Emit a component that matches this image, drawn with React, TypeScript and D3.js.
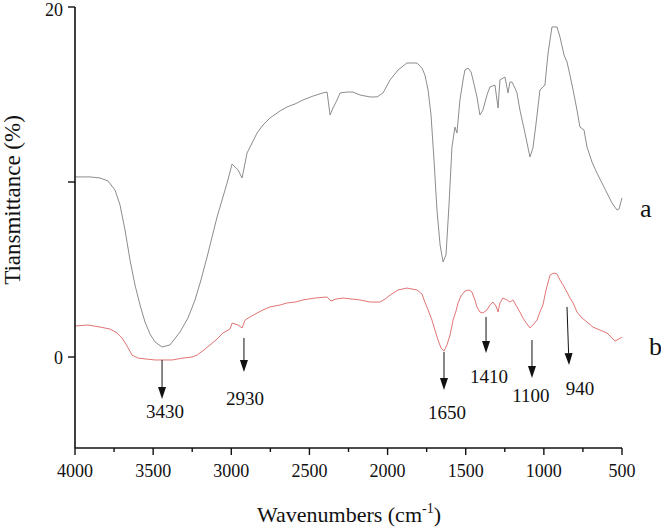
import React from "react";
import * as d3 from "d3";

// ---- data ----
const wavenumbersA = [4000,3904,3840,3789,3744,3712,3680,3648,3616,3584,3552,3520,3488,3443,3392,3328,3277,3232,3194,3155,3123,3091,3059,3027,2995,2957,2931,2899,2867,2835,2797,2752,2688,2643,2592,2541,2477,2413,2387,2368,2349,2323,2304,2259,2221,2176,2112,2068,2029,1984,1933,1876,1812,1780,1761,1741,1722,1703,1684,1664,1645,1626,1607,1588,1569,1556,1537,1517,1505,1485,1466,1453,1428,1409,1390,1364,1345,1313,1293,1281,1249,1229,1217,1204,1185,1172,1153,1121,1089,1070,1051,1025,993,973,948,916,897,871,852,833,813,788,769,743,724,692,660,628,596,564,532,519,500];
const transmittanceA = [10.29,10.29,10.23,10.06,9.54,8.69,7.26,5.54,4.11,2.97,2.0,1.31,0.86,0.57,0.69,1.43,2.23,3.26,4.4,5.71,6.86,8.0,8.97,9.94,11.03,10.69,10.23,11.66,12.23,12.8,13.26,13.66,14.06,14.29,14.46,14.69,14.91,15.09,15.14,13.83,14.23,14.69,15.09,15.14,15.14,14.97,14.86,14.86,15.09,15.83,16.4,16.8,16.8,16.51,16.11,15.26,13.83,11.26,8.4,6.4,5.43,5.83,8.69,12.0,13.14,12.8,14.69,15.83,16.4,16.51,16.29,15.83,14.86,13.83,14.11,14.97,15.43,15.54,14.23,15.83,16.0,15.09,15.71,15.71,15.37,15.09,14.11,12.8,11.43,11.94,13.26,15.26,15.54,17.37,18.86,18.86,18.29,17.26,16.86,16.11,15.26,14.11,13.14,12.97,12.0,11.14,10.51,9.94,9.37,8.8,8.4,8.46,9.09];

const wavenumbersB = [4000,3917,3840,3776,3731,3699,3667,3635,3597,3552,3488,3443,3379,3309,3251,3219,3175,3136,3098,3053,3008,2995,2957,2931,2912,2880,2835,2797,2752,2688,2643,2592,2541,2464,2387,2362,2330,2285,2228,2176,2112,2048,2016,1984,1933,1876,1812,1780,1761,1741,1716,1697,1677,1658,1639,1620,1600,1581,1562,1549,1530,1505,1479,1460,1441,1428,1409,1390,1364,1345,1326,1306,1293,1281,1262,1236,1217,1198,1172,1153,1134,1108,1089,1070,1044,1025,1006,986,960,935,916,897,877,852,833,813,788,756,724,686,641,596,564,545,519,500];
const transmittanceB = [1.77,1.83,1.71,1.6,1.37,1.09,0.63,0.11,-0.06,-0.11,-0.17,-0.17,-0.17,-0.06,0,0.11,0.4,0.69,0.97,1.37,1.6,1.94,1.83,1.66,2.11,2.29,2.51,2.69,2.86,2.97,3.09,3.14,3.26,3.37,3.43,3.2,3.31,3.37,3.31,3.26,3.14,3.14,3.31,3.54,3.83,3.94,3.83,3.6,3.14,2.69,2.11,1.54,0.97,0.51,0.34,0.69,1.26,2.11,2.63,3.09,3.49,3.77,3.83,3.71,3.26,2.86,2.57,2.51,2.69,2.97,3.14,2.91,2.57,3.09,3.37,3.26,3.14,3.26,2.86,2.57,2.23,1.89,1.66,1.83,2.11,2.57,2.97,3.83,4.69,4.8,4.74,4.4,4.11,3.71,3.37,3.09,2.57,2.23,2.0,1.71,1.54,1.37,1.09,0.91,1.03,1.14];

const xMajorTicks = [4000,3500,3000,2500,2000,1500,1000,500];
const xMinorTicks = [3750,3250,2750,2250,1750,1250,750];
const yTicks = [0,10,20];
const yTickLabels = ["0","","20"];

// peak annotations (data units)
const peakLabels = ["3430","2930","1650","1410","1100","940"];
const arrowWnStart = [3443,2919,1639,1370,1076,852];
const arrowWnEnd = [3443,2919,1639,1370,1076,839];
const arrowTopVal = [-0.17,1.09,0.29,2.29,0.97,2.86];
const arrowTipVal = [-2.4,-0.86,-1.89,0.23,-1.2,-0.46];
const labelWn = [3424,2912,1620,1351,1083,769];
const labelVal = [-3.49,-2.74,-3.54,-1.49,-2.57,-2.17];

const seriesNames = ["a","b"];
const seriesNameVal = [8.0,0.1];

const W = 661, H = 528;
const FONT = "Liberation Serif";
const tx = { fontFamily: FONT, fill: "#111" } as React.CSSProperties;

export default function App() {
  const x = d3.scaleLinear().domain([4000, 500]).range([75, 622]);
  const y = d3.scaleLinear().domain([-5.2, 20]).range([448, 7]);
  const line = d3.line<[number, number]>().x(d => x(d[0])).y(d => y(d[1]));
  const dataA = wavenumbersA.map((w, i) => [w, transmittanceA[i]] as [number, number]);
  const dataB = wavenumbersB.map((w, i) => [w, transmittanceB[i]] as [number, number]);
  const x0 = x.range()[0], x1 = x.range()[1];
  const yBottom = y.range()[0], yTop = y.range()[1];

  return (
    <svg width={W} height={H} style={{ position: "absolute", left: 0, top: 0, background: "#fff" }}>
      <rect width={W} height={H} fill="#fff" />
      {/* curves */}
      <path d={line(dataA) || ""} fill="none" stroke="#8c8c8c" strokeWidth={1} />
      <path d={line(dataB) || ""} fill="none" stroke="#e27474" strokeWidth={1} />

      {/* axes */}
      <line x1={x0} x2={x0} y1={yTop} y2={yBottom} stroke="#111" strokeWidth={1.6} />
      <line x1={x0} x2={x1} y1={yBottom} y2={yBottom} stroke="#111" strokeWidth={1.6} />
      {xMajorTicks.map(t => (
        <g key={"xm" + t}>
          <line x1={x(t)} x2={x(t)} y1={yBottom} y2={yBottom + 7} stroke="#111" strokeWidth={1.4} />
          <text x={x(t)} y={477} fontSize={18} textAnchor="middle" style={tx}>{t}</text>
        </g>
      ))}
      {xMinorTicks.map(t => (
        <line key={"xn" + t} x1={x(t)} x2={x(t)} y1={yBottom} y2={yBottom + 4} stroke="#111" strokeWidth={1.4} />
      ))}
      {yTicks.map((t, i) => (
        <g key={"y" + t}>
          <line x1={x0 - 7} x2={x0} y1={y(t)} y2={y(t)} stroke="#111" strokeWidth={1.4} />
          {yTickLabels[i] && (
            <text x={x0 - 12} y={Math.max(y(t) + 6.5, 16)} fontSize={18} textAnchor="end" style={tx}>{yTickLabels[i]}</text>
          )}
        </g>
      ))}

      {/* axis titles */}
      <text x={349} y={522} fontSize={22} textAnchor="middle" style={tx}>
        Wavenumbers (cm<tspan fontSize={14} dy={-9}>-1</tspan><tspan dy={9}>)</tspan>
      </text>
      <text transform="translate(20,200) rotate(-90)" fontSize={23} textAnchor="middle" style={tx}>Tiansmittance (%)</text>

      {/* series names */}
      {seriesNames.map((s, i) => (
        <text key={s} x={i === 0 ? 640 : 649} y={y(seriesNameVal[i])} fontSize={26} style={tx}>{s}</text>
      ))}

      {/* peak annotations */}
      {peakLabels.map((lab, i) => {
        const ax1 = x(arrowWnStart[i]), ax2 = x(arrowWnEnd[i]);
        const ay1 = y(arrowTopVal[i]), ay2 = y(arrowTipVal[i]);
        const ang = Math.atan2(ay2 - ay1, ax2 - ax1);
        const hl = 12, hw = 4;
        const bx = ax2 - hl * Math.cos(ang), by = ay2 - hl * Math.sin(ang);
        const px = -Math.sin(ang) * hw, py = Math.cos(ang) * hw;
        return (
          <g key={lab}>
            <line x1={ax1} y1={ay1} x2={bx} y2={by} stroke="#111" strokeWidth={1} />
            <path d={`M${ax2},${ay2}L${bx + px},${by + py}L${bx - px},${by - py}Z`} fill="#111" />
            <text x={x(labelWn[i])} y={y(labelVal[i])} fontSize={19} textAnchor="middle" style={tx}>{lab}</text>
          </g>
        );
      })}
    </svg>
  );
}
